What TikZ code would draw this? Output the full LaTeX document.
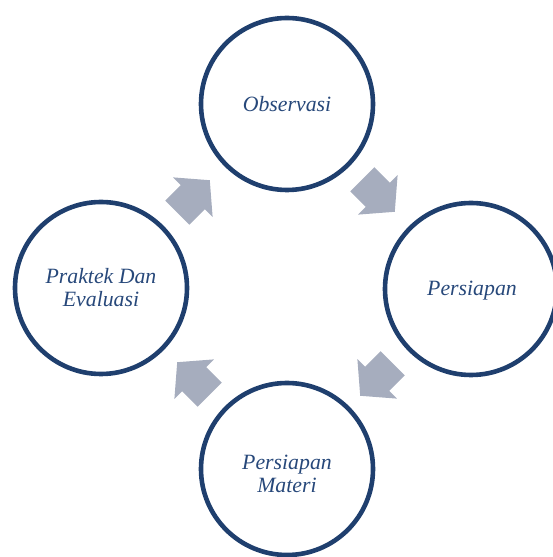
\documentclass[tikz,border=0pt]{standalone}
\usepackage{fontspec}
\setmainfont{Liberation Serif}
\definecolor{ringblue}{HTML}{1F3F6E}
\definecolor{textblue}{HTML}{27487A}
\definecolor{arrowgray}{HTML}{A6ADBE}
\begin{document}
\begin{tikzpicture}[x=1pt,y=1pt,
  stage/.style={circle, draw=ringblue, line width=4.6pt, minimum size=172pt, inner sep=0pt,
    text=textblue, font=\fontsize{21.8}{23}\selectfont\itshape, align=center},
  stagelabel/.style={text=textblue, font=\fontsize{21.8}{23}\selectfont\itshape, align=center, inner sep=0pt},
  blockarrow/.pic={\fill[arrowgray] (-18,17) -- (4,17) -- (4,28) -- (28,0) -- (4,-28) -- (4,-17) -- (-18,-17) -- cycle;}]
\useasboundingbox (0,0) rectangle (552,557);
\node[stage] (obs) at (287,453) {Observasi};
\node[stage] (pers) at (471,268) {};
\node[stagelabel] (perslabel) at (472,266) {Persiapan};
\node[stage] (mat) at (287,88) {};
\node[stagelabel] (matlabel) at (287,83) {Persiapan\\Materi};
\node[stage] (prak) at (101,269) {Praktek Dan\\Evaluasi};
\pic[rotate=-45] (a1) at (375,365) {blockarrow};
\pic[rotate=-135] (a2) at (380,181) {blockarrow};
\pic[rotate=135] (a3) at (197,175) {blockarrow};
\pic[rotate=45] (a4) at (190,357) {blockarrow};
\end{tikzpicture}
\end{document}
